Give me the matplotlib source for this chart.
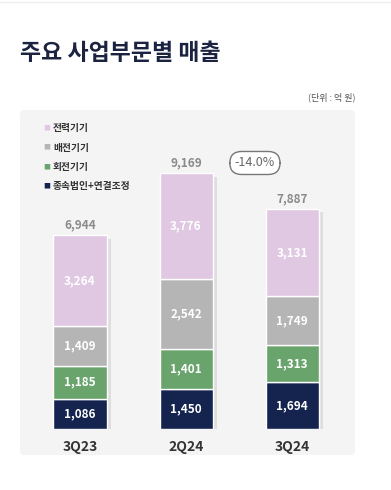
import matplotlib.pyplot as plt
from matplotlib.patches import FancyBboxPatch

plt.rcParams['font.family'] = ['Noto Sans CJK KR', 'DejaVu Sans']

# data (unit: 억 원)
quarters = ['3Q23', '2Q24', '3Q24']
series_names = ['종속법인+연결조정', '회전기기', '배전기기', '전력기기']
subsidiaries = [1086, 1450, 1694]
rotating = [1185, 1401, 1313]
distribution = [1409, 2542, 1749]
power = [3264, 3776, 3131]
totals = [6944, 9169, 7887]
change_label = '-14.0%'

colors = ['#14244f', '#69a46c', '#b5b5b5', '#e0c8e3']
series = [subsidiaries, rotating, distribution, power]

W, H = 391, 490
fig = plt.figure(figsize=(W / 100, H / 100), dpi=100)
fig.patch.set_facecolor('white')

# light panel behind the chart
panel = FancyBboxPatch((20 / W, 1 - 455 / H), 335 / W, 345 / H,
                       boxstyle='round,pad=0,rounding_size=0.01',
                       transform=fig.transFigure, facecolor='#f4f4f4',
                       edgecolor='none', zorder=-5)
fig.patches.append(panel)
fig.add_artist(plt.Line2D([0, 1], [1 - 2 / H, 1 - 2 / H], color='#eeeeee', lw=1))

fig.text(20 / W, 1 - 53 / H, '주요 사업부문별 매출', fontsize=16.5, fontweight='heavy',
         color='#1b2340', va='center', ha='left')
fig.text(355 / W, 1 - 97 / H, '(단위 : 억 원)', fontsize=6.5, color='#555555',
         va='center', ha='right')

ax = fig.add_axes([20 / W, 1 - 429 / H, 335 / W, 319 / H], zorder=2)
ax.set_facecolor('none')
x = list(range(len(quarters)))
width = 0.5

# soft shadow
ax.bar([i + 0.04 for i in x], totals, width, bottom=-120, color='#dedede', zorder=1)

bottom = [0, 0, 0]
for vals, c in zip(series, colors):
    ax.bar(x, vals, width, bottom=bottom, color=c, edgecolor='white', linewidth=1, zorder=2)
    for i, v in enumerate(vals):
        ax.text(x[i], bottom[i] + v / 2, f'{v:,}', ha='center', va='center',
                color='white', fontsize=8.5, fontweight='bold', zorder=3)
    bottom = [b + v for b, v in zip(bottom, vals)]

for i, t in enumerate(totals):
    ax.text(x[i], t + 130, f'{t:,}', ha='center', va='bottom', color='#8a8a8a',
            fontsize=8.5, fontweight='bold')

ax.text(1.65, 9534, change_label, ha='center', va='center', fontsize=9,
        color='#666666',
        bbox=dict(boxstyle='round,pad=0.4,rounding_size=0.95', facecolor='white',
                  edgecolor='#777777', linewidth=1))

for i, q in enumerate(quarters):
    ax.text(x[i], -380, q, ha='center', va='top', fontsize=10, fontweight='bold',
            color='#333333')

ax.set_xlim(-0.566, 2.594)
ax.set_ylim(0, 11433)
ax.axis('off')

# legend (top to bottom)
for k, (name, c) in enumerate(zip(series_names[::-1], colors[::-1])):
    yy = 1 - (128 + k * 19.5) / H
    fig.text(47 / W, yy, '■', color=c, fontsize=5, va='center', ha='center')
    fig.text(53 / W, yy, name, color='#333333', fontsize=7, fontweight='bold',
             va='center', ha='left')

fig.savefig('out.png', dpi=100)
